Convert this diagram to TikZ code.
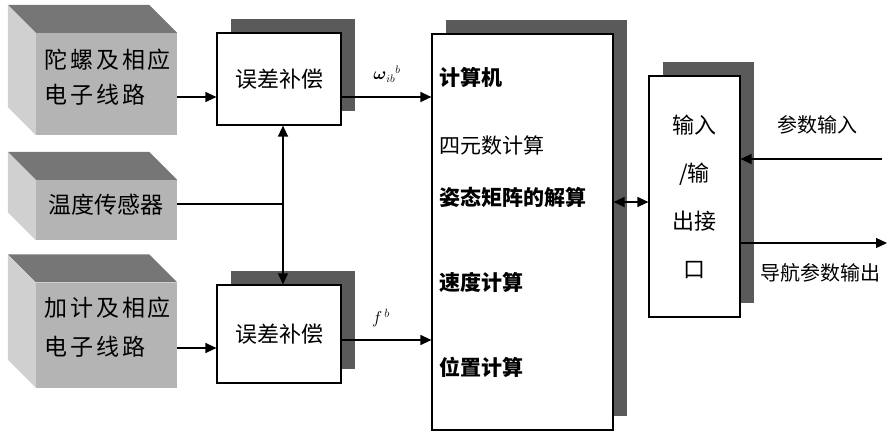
\documentclass[tikz,border=0pt]{standalone}
\usepackage{fontspec}
\usepackage{amsmath}
\usetikzlibrary{arrows.meta,shadows}

\newfontfamily\cjk{Noto Sans CJK SC}
\newfontfamily\cjkwide[LetterSpace=12]{Noto Sans CJK SC}

\definecolor{topgray}{RGB}{118,118,118}
\definecolor{sidegray}{RGB}{208,208,208}
\definecolor{frontgray}{RGB}{180,180,180}
\definecolor{shadegray}{RGB}{90,90,90}

\tikzset{
  cube/.style={fill=frontgray, inner sep=0pt},
  cubetext/.style={inner sep=0pt, align=left},
  panel/.style={draw, line width=1.2pt, fill=white, inner sep=0pt,
    general shadow={fill=shadegray, shadow xshift=14pt, shadow yshift=14pt}},
  arr/.style={line width=1.3pt, -{Triangle[length=11pt,width=10pt]}},
  txt/.style={font=\cjk\fontsize{21}{24}\selectfont, inner sep=0pt}
}

\begin{document}
\begin{tikzpicture}[x=1pt,y=-1pt]
    \useasboundingbox (0,0) rectangle (890,437);

    % sensor blocks
    \node[cube, minimum width=141pt, minimum height=102pt] (gyro) at (106.5,84) {};
    \node[cube, minimum width=141pt, minimum height=60pt] (temp) at (106.5,210) {};
    \node[cube, minimum width=141pt, minimum height=105pt] (acc) at (106.5,335) {};

    \foreach \n in {gyro,temp,acc} {
        \fill[topgray] (\n.north west) -- ([shift={(-28,-28)}]\n.north west)
            -- ([shift={(-28,-28)}]\n.north east) -- (\n.north east) -- cycle;
        \fill[sidegray] (\n.north west) -- ([shift={(-28,-28)}]\n.north west)
            -- ([shift={(-28,-28)}]\n.south west) -- (\n.south west) -- cycle;
    }

    \node[cubetext, font=\cjkwide\fontsize{23}{35}\selectfont] (gyrotxt) at (108,77) {陀螺及相应\\电子线路};
    \node[cubetext, font=\cjk\fontsize{23}{26}\selectfont] (temptxt) at (106,205) {温度传感器};
    \node[cubetext, font=\cjkwide\fontsize{23}{39}\selectfont] (acctxt) at (108,327) {加计及相应\\电子线路};

    % compensation
    \node[panel, minimum width=124pt, minimum height=92pt, font=\cjk\fontsize{22}{24}\selectfont]
        (comp1) at (279,79) {误差补偿};
    \node[panel, minimum width=124pt, minimum height=98pt, font=\cjk\fontsize{22}{24}\selectfont]
        (comp2) at (279,334) {误差补偿};

    % computer and interface
    \node[panel, minimum width=181pt, minimum height=396pt] (cpu) at (522.5,232) {};
    \node[panel, minimum width=91pt, minimum height=241pt, align=center,
        font=\cjk\fontsize{22}{48}\selectfont] (io) at (694.5,196.5) {输入\\/输\\出接\\口};

    \node[txt, anchor=west, font=\cjk\bfseries\fontsize{21}{24}\selectfont] (c1) at (439,77) {计算机};
    \node[txt, anchor=west] (c2) at (439,145) {四元数计算};
    \node[txt, anchor=west, font=\cjk\bfseries\fontsize{21}{24}\selectfont] (c3) at (439,197) {姿态矩阵的解算};
    \node[txt, anchor=west, font=\cjk\bfseries\fontsize{21}{24}\selectfont] (c4) at (439,282) {速度计算};
    \node[txt, anchor=west, font=\cjk\bfseries\fontsize{21}{24}\selectfont] (c5) at (439,367) {位置计算};

    % connections
    \coordinate (g1) at ([yshift=-13pt]gyro.east);
    \draw[arr] (g1) -- (g1 -| comp1.west);
    \coordinate (a1) at ([yshift=-13pt]acc.east);
    \draw[arr] (a1) -- (a1 -| comp2.west);

    \coordinate (tj) at (283,204);
    \draw[line width=1.3pt] (temp.east |- tj) -- (tj);
    \draw[arr, {Triangle[length=11pt,width=10pt]}-{Triangle[length=11pt,width=10pt]}]
        (tj |- comp1.south) -- (tj |- comp2.north);

    \coordinate (w1) at (341,97);
    \draw[arr] (w1) -- (w1 -| cpu.west);
    \node[font=\fontsize{16}{18}\selectfont] (wlab) at (387,74) {$\boldsymbol{\omega}_{ib}{}^{b}$};
    \coordinate (f1) at (341,340);
    \draw[arr] (f1) -- (f1 -| cpu.west);
    \node[font=\fontsize{17}{18}\selectfont] (flab) at (381,318) {$f^{\,b}$};

    \coordinate (d1) at (613,202);
    \draw[arr, {Triangle[length=11pt,width=10pt]}-{Triangle[length=11pt,width=10pt]}]
        (cpu.east |- d1) -- (io.west |- d1);

    \coordinate (pin) at (882,159);
    \draw[arr] (pin) -- (pin -| io.east);
    \node[txt, font=\cjk\fontsize{20}{22}\selectfont] (pinlab) at (817,125) {参数输入};
    \coordinate (pout) at (887,243);
    \draw[arr] (pout -| io.east) -- (pout);
    \node[txt, font=\cjk\fontsize{20}{22}\selectfont] (poutlab) at (820,273) {导航参数输出};

\end{tikzpicture}
\end{document}
